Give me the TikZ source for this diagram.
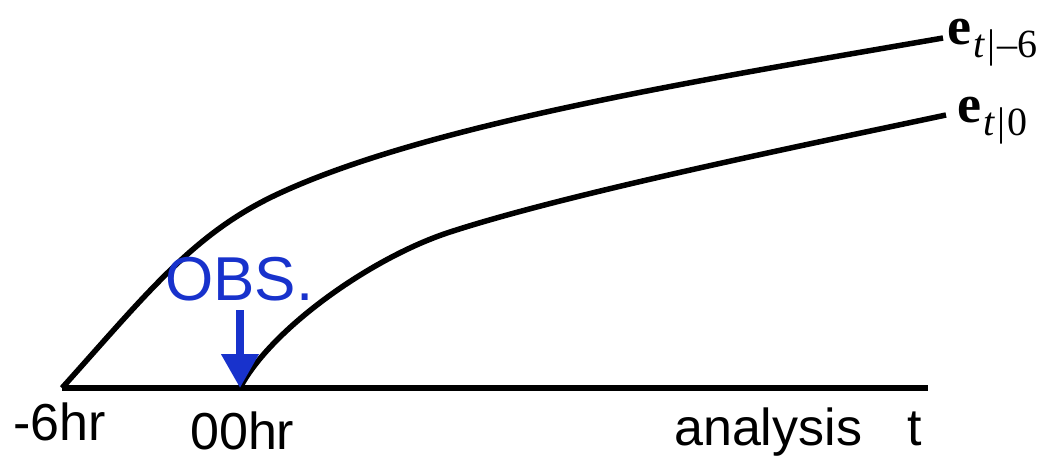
\documentclass[tikz,border=0pt]{standalone}
\usepackage{fontspec}
\setmainfont{Liberation Sans}
\newfontfamily\timesfont{Liberation Serif}
\usetikzlibrary{arrows.meta}
\definecolor{obsblue}{RGB}{24,50,204}
\tikzset{
  curveline/.style={line width=5.5pt, black, line join=round},
  axisline/.style={line width=5.5pt, black},
  lbl/.style={inner sep=0pt, anchor=base west, font=\fontsize{52}{60}\selectfont},
  obslbl/.style={inner sep=0pt, anchor=base west, text=obsblue, font=\fontsize{62}{70}\selectfont},
  elbl/.style={inner sep=0pt, anchor=base west},
  obsarrow/.style={line width=7.5pt, obsblue, -{Triangle[width=36pt,length=34pt]}},
}
\newcommand{\esub}[1]{{\timesfont\fontsize{54}{60}\selectfont\bfseries e}\kern2pt\raisebox{-13pt}{\timesfont\fontsize{40}{44}\selectfont #1}}
\newcommand{\vbar}{\kern2pt|\kern2pt}
\begin{document}
\begin{tikzpicture}[x=1pt,y=-1pt]
\useasboundingbox (0,0) rectangle (1048,458);
\coordinate (start6) at (62,388);
\coordinate (start0) at (240,388);
\coordinate (axend) at (928,388);
\coordinate (obstail) at (240,310);
% axis
\draw[axisline] (start6) -- (axend);
% curves
\draw[curveline] (start6) .. controls (150,290) and (195,232) .. (280,193)
  .. controls (430,124) and (700,80) .. (943,38);
\draw[curveline] (start0) .. controls (270,330) and (370,258) .. (450,232)
  .. controls (570,193) and (800,146) .. (946,115);
% labels
\node[elbl] (e6) at (947,44) {\esub{\textit{t}\vbar–6}};
\node[elbl] (e0) at (957,122) {\esub{\textit{t}\vbar 0}};
\node[obslbl] (obs) at (165,300) {OBS.};
\draw[obsarrow] (obstail) -- (start0);
\node[lbl] (m6) at (13,440) {-6hr};
\node[lbl] (h00) at (190,449) {00hr};
\node[lbl] (ana) at (674,445) {analysis};
\node[lbl] (tt) at (907,445) {t};
\end{tikzpicture}
\end{document}
